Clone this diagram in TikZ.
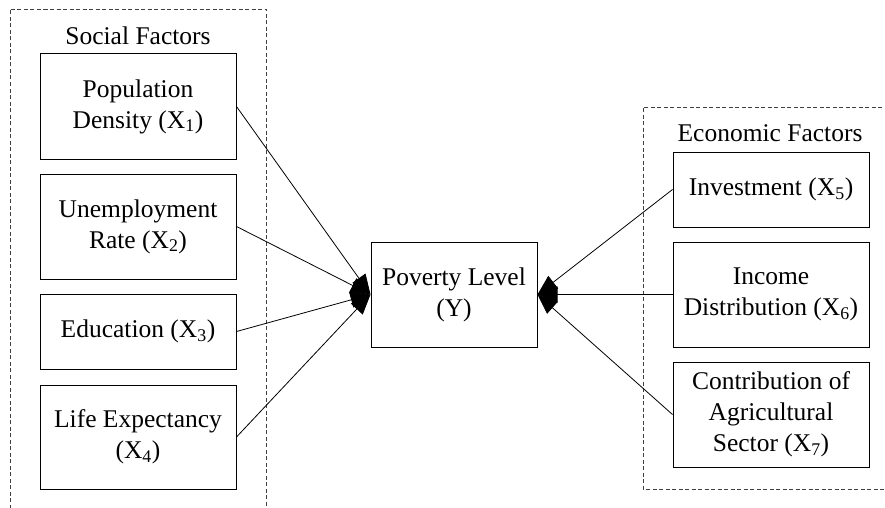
\documentclass[tikz,border=0pt]{standalone}
\usepackage{fontspec}
\setmainfont{Liberation Serif}
\usetikzlibrary{arrows.meta}
\begin{document}
\begin{tikzpicture}[x=1pt,y=-1pt,
  fbox/.style={draw, line width=1pt, minimum width=196pt, align=center, inner sep=0pt, font=\fontsize{25.5}{31}\selectfont},
  grp/.style={draw=black!75, dashed, dash pattern=on 4pt off 2.5pt, line width=0.8pt},
  lbl/.style={font=\fontsize{25.5}{31}\selectfont, inner sep=0pt},
  arr/.style={line width=0.8pt, -{Triangle[length=20pt,width=16pt]}}]
\useasboundingbox (0,0) rectangle (885,508);
\begin{scope}
\clip (0,0) rectangle (885,508);
\draw[grp] (10,515) -- (10,9) -- (266,9) -- (266,515);
\draw[grp] (895,107) -- (643,107) -- (643,489) -- (895,489);
\end{scope}
\node[lbl] (sf) at (138,36) {Social Factors};
\node[lbl] (ef) at (770,133) {Economic Factors};
\node[fbox, minimum height=105pt] (b1) at (138,106.5) {Population\\Density (X\textsubscript{1})};
\node[fbox, minimum height=105pt] (b2) at (138,226.5) {Unemployment\\Rate (X\textsubscript{2})};
\node[fbox, minimum height=75pt] (b3) at (138,331.5) {Education (X\textsubscript{3})};
\node[fbox, minimum height=104pt] (b4) at (138,437) {Life Expectancy\\(X\textsubscript{4})};
\node[fbox, minimum width=166pt, minimum height=105pt] (y) at (454,294.5) {Poverty Level\\(Y)};
\node[fbox, minimum height=75pt] (b5) at (771,189.5) {Investment (X\textsubscript{5})};
\node[fbox, minimum height=105pt] (b6) at (771,294.5) {Income\\Distribution (X\textsubscript{6})};
\node[fbox, minimum height=105pt] (b7) at (771,414.5) {Contribution of\\Agricultural\\Sector (X\textsubscript{7})};
\draw[arr] (b1.east) -- (y.west);
\draw[arr] (b2.east) -- (y.west);
\draw[arr] (b3.east) -- (y.west);
\draw[arr] (b4.east) -- (y.west);
\draw[arr] (b5.west) -- (y.east);
\draw[arr] (b6.west) -- (y.east);
\draw[arr] (b7.west) -- (y.east);
\end{tikzpicture}
\end{document}
